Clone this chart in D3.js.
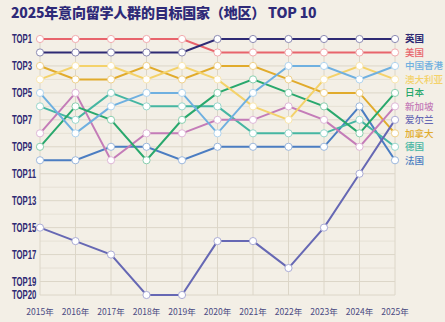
<!DOCTYPE html>
<html><head><meta charset="utf-8">
<script src="https://cdn.jsdelivr.net/npm/d3@7/dist/d3.min.js"></script>
<style>
html,body{margin:0;padding:0;background:#f3efe6;}
svg{display:block;}
</style></head>
<body>
<svg id="c" width="445" height="322"></svg>
<script>
const years = ["2015年","2016年","2017年","2018年","2019年","2020年","2021年","2022年","2023年","2024年","2025年"];
const rankTicks = [1,3,5,7,9,11,13,15,17,19,20];
const countries = ["英国","美国","中国香港","澳大利亚","日本","新加坡","爱尔兰","加拿大","德国","法国"];
const colors = ["#2e2a74","#e8646c","#6fb0e0","#f4d26a","#29a86d","#c47cb8","#6668b4","#e1ab2c","#45b6a2","#4b7dc2"];
const ukRank        = [2,2,2,2,2,1,1,1,1,1,1];
const usRank        = [1,1,1,1,1,2,2,2,2,2,2];
const hkRank        = [5,8,6,5,5,8,5,3,3,4,3];
const auRank        = [4,3,3,4,3,4,6,7,4,3,4];
const jpRank        = [9,6,7,10,7,5,4,5,6,8,5];
const sgRank        = [8,5,10,8,8,7,7,6,7,9,6];
const ieRank        = [15,16,17,20,20,16,16,18,15,11,7];
const caRank        = [3,4,4,3,4,3,3,4,5,5,8];
const deRank        = [6,7,5,6,6,6,8,8,8,7,9];
const frRank        = [10,10,9,9,10,9,9,9,9,6,10];
const ranks = [ukRank,usRank,hkRank,auRank,jpRank,sgRank,ieRank,caRank,deRank,frRank];

const svg = d3.select("#c");
const x = d3.scalePoint().domain(years).range([40,395]);
const y = d3.scaleLinear().domain([1,20]).range([39,295]);

svg.append("text").attr("x",11).attr("y",18)
  .attr("font-family","'Noto Sans CJK SC',sans-serif").attr("font-weight",800)
  .attr("font-size",14).attr("fill","#2e2a78").attr("letter-spacing","-0.2")
  .text("2025年意向留学人群的目标国家（地区） TOP 10");

// grid
const g = svg.append("g");
g.selectAll("line.h").data(d3.range(1,21)).join("line")
  .attr("x1",40).attr("x2",395).attr("y1",d=>y(d)).attr("y2",d=>y(d))
  .attr("stroke",d=>d%2===1||d===20?"#dcd6c8":"#e6e1d5").attr("stroke-width",1);
g.selectAll("line.v").data(years).join("line")
  .attr("x1",d=>x(d)).attr("x2",d=>x(d)).attr("y1",y(1)).attr("y2",y(20))
  .attr("stroke","#dcd6c8").attr("stroke-width",1);

// y labels (condensed by measured scale)
const yl = svg.append("g").attr("transform","translate(12,0)");
const yt = yl.selectAll("text").data(rankTicks).join("text")
  .attr("x",0).attr("y",d=>y(d)).attr("dy","0.36em")
  .attr("font-family","'Liberation Sans',Arial,sans-serif").attr("font-weight",700)
  .attr("font-size",12).attr("fill","#2e2a74")
  .text(d=>"TOP"+d);
let w11 = 0;
yt.each(function(d){ if(d===11) w11 = this.getComputedTextLength(); });
const sx = w11 ? 24/w11 : 0.63;
yl.attr("transform",`translate(12,0) scale(${sx},1)`);

// x labels
svg.append("g").selectAll("text").data(years).join("text")
  .attr("x",d=>x(d)).attr("y",312).attr("dy","0.35em").attr("text-anchor","middle")
  .attr("font-family","'Noto Sans CJK SC',sans-serif").attr("font-size",8.5)
  .attr("fill","#4a4a82").text(d=>d);

const line = d3.line().x((d,i)=>x(years[i])).y(d=>y(d));
const order = [9,8,7,6,5,4,3,2,1,0];
const series = svg.append("g");
order.forEach(k=>{
  series.append("path").datum(ranks[k]).attr("d",line)
    .attr("fill","none").attr("stroke",colors[k]).attr("stroke-width",2);
});
order.forEach(k=>{
  series.append("g").selectAll("circle").data(ranks[k]).join("circle")
    .attr("cx",(d,i)=>x(years[i])).attr("cy",d=>y(d)).attr("r",3.6)
    .attr("fill","#ffffff").attr("stroke",d3.interpolateRgb(colors[k],"#ffffff")(0.45)).attr("stroke-width",1);
});

// right labels
svg.append("g").selectAll("text").data(countries).join("text")
  .attr("x",405).attr("y",(d,i)=>y(ranks[i][10])).attr("dy","0.36em")
  .attr("font-family","'Noto Sans CJK SC',sans-serif").attr("font-size",9.5)
  .attr("font-weight",(d,i)=>i===0?700:500)
  .attr("fill",(d,i)=>colors[i]).text(d=>d);
</script>
</body></html>
